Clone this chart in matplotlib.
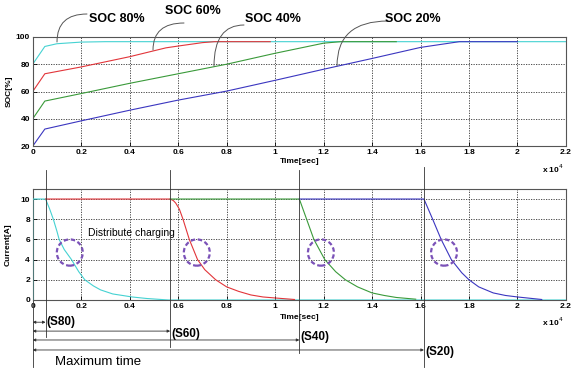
import matplotlib
matplotlib.use("Agg")
import matplotlib.pyplot as plt
from matplotlib.patches import Ellipse

# time axis in units of 1e4 sec
# SOC curves (top panel)
soc80_t = [0, 0.05, 0.1, 0.2, 0.3, 2.2]
soc80_v = [80, 93, 95, 96.2, 96.5, 96.5]
soc60_t = [0, 0.05, 0.2, 0.4, 0.55, 0.6, 0.7, 0.75, 0.98]
soc60_v = [60, 73, 78, 85.5, 92, 93.3, 95.8, 96.5, 96.5]
soc40_t = [0, 0.05, 0.2, 0.4, 0.6, 0.8, 1.0, 1.2, 1.27, 1.5]
soc40_v = [40, 53, 58.5, 66, 73, 80, 88, 95.4, 96.5, 96.5]
soc20_t = [0, 0.05, 0.2, 0.4, 0.6, 0.8, 1.0, 1.2, 1.4, 1.6, 1.76, 2.0]
soc20_v = [20, 32.5, 38.5, 46.3, 53.7, 60.3, 68.2, 76.3, 84.2, 92.3, 96.5, 96.5]

# current curves (bottom panel)
i80_t = [0, 0, 0.053, 0.07, 0.085, 0.1, 0.109, 0.13, 0.16, 0.19, 0.215, 0.25, 0.28, 0.33, 0.41, 0.47, 0.53, 0.56, 2.2]
i80_v = [0, 10, 10, 9, 8, 6.8, 6, 5, 4, 2.8, 2, 1.4, 1, 0.6, 0.3, 0.15, 0.05, 0, 0]
i60_t = [0.053, 0.567, 0.58, 0.59, 0.605, 0.62, 0.646, 0.68, 0.71, 0.755, 0.8, 0.85, 0.9, 0.95, 1.0, 1.08]
i60_v = [10, 10, 9.85, 9.6, 9, 8, 6, 4, 3, 2, 1.3, 0.85, 0.5, 0.3, 0.2, 0.05]
i40_t = [0.567, 1.10, 1.13, 1.16, 1.205, 1.25, 1.29, 1.34, 1.4, 1.45, 1.5, 1.58]
i40_v = [10, 10, 8, 6, 4, 2.8, 2, 1.3, 0.7, 0.45, 0.25, 0.08]
i20_t = [1.10, 1.614, 1.65, 1.685, 1.727, 1.77, 1.8, 1.84, 1.9, 1.95, 2.0, 2.1]
i20_v = [10, 10, 8, 6, 4, 2.7, 2, 1.3, 0.7, 0.45, 0.3, 0.05]

# charging end times and circle marks
end_times = [0.053, 0.567, 1.10, 1.614]
end_labels = ['(S80)', '(S60)', '(S40)', '(S20)']
circle_t = [0.153, 0.677, 1.189, 1.697]
circle_i = 4.7

xticks = [0, 0.2, 0.4, 0.6, 0.8, 1.0, 1.2, 1.4, 1.6, 1.8, 2.0, 2.2]
xticklabels = ['0', '0.2', '0.4', '0.6', '0.8', '1', '1.2', '1.4', '1.6', '1.8', '2', '2.2']

c_cyan = '#45d2d2'
c_red = '#e2353a'
c_green = '#3a9a3a'
c_blue = '#3b36c0'
FONT = 'Liberation Sans'

fig = plt.figure(figsize=(5.74, 3.69), dpi=100)
ax1 = fig.add_axes([0.057, 0.604, 0.929, 0.296])
ax2 = fig.add_axes([0.057, 0.187, 0.929, 0.301])

for ax in (ax1, ax2):
    ax.set_xlim(0, 2.2)
    ax.set_xticks(xticks)
    ax.set_xticklabels(xticklabels, fontsize=6, fontweight='bold', family=FONT)
    ax.tick_params(direction='in', length=3, width=0.6, pad=2, labelsize=6)
    ax.grid(True, linestyle=(0, (1.5, 1.5)), color='#333333', linewidth=0.6)
    for s in ax.spines.values():
        s.set_linewidth(0.8)
        s.set_color('#555555')

# top panel
ax1.plot(soc80_t, soc80_v, color=c_cyan, lw=0.8)
ax1.plot(soc60_t, soc60_v, color=c_red, lw=0.8)
ax1.plot(soc40_t, soc40_v, color=c_green, lw=0.8)
ax1.plot(soc20_t, soc20_v, color=c_blue, lw=0.8)
ax1.set_ylim(20, 100)
ax1.set_yticks([20, 40, 60, 80, 100])
ax1.set_yticklabels(['20', '40', '60', '80', '100'], fontsize=6, fontweight='bold', family=FONT)
ax1.set_ylabel('SOC[%]', fontsize=6, fontweight='bold', family=FONT, labelpad=2)
ax1.text(0.5, -0.14, 'Time[sec]', transform=ax1.transAxes, ha='center', va='center',
         fontsize=6, fontweight='bold', family=FONT)
ax1.text(0.975, -0.21, r'x 10$^4$', transform=ax1.transAxes, ha='center', va='center',
         fontsize=6, fontweight='bold', family=FONT)

# bottom panel
ax2.plot(i80_t, i80_v, color=c_cyan, lw=0.8, zorder=3)
ax2.plot(i60_t, i60_v, color=c_red, lw=0.8, zorder=3)
ax2.plot(i40_t, i40_v, color=c_green, lw=0.8, zorder=3)
ax2.plot(i20_t, i20_v, color=c_blue, lw=0.8, zorder=3)
ax2.set_ylim(0, 11)
ax2.set_yticks([0, 2, 4, 6, 8, 10])
ax2.set_yticklabels(['0', '2', '4', '6', '8', '10'], fontsize=6, fontweight='bold', family=FONT)
ax2.set_ylabel('Current[A]', fontsize=6, fontweight='bold', family=FONT, labelpad=6)
ax2.text(0.5, -0.155, 'Time[sec]', transform=ax2.transAxes, ha='center', va='center',
         fontsize=6, fontweight='bold', family=FONT, zorder=5)
ax2.text(0.975, -0.2, r'x 10$^4$', transform=ax2.transAxes, ha='center', va='center',
         fontsize=6, fontweight='bold', family=FONT)

for ct in circle_t:
    ax2.add_patch(Ellipse((ct, circle_i), 0.107, 2.6, fill=False, edgecolor='#7b52b8',
                          lw=1.6, linestyle=(0, (2, 1.2)), zorder=4))
ax2.text(0.23, 6.6, 'Distribute charging', fontsize=7.5, family=FONT,
         ha='left', va='center', zorder=5)

# vertical marker lines and time arrows under the bottom panel
tr = ax2.get_xaxis_transform()
line_tops = [1.17, 1.17, 1.17, 1.2]
line_bottoms = [-0.33, -0.42, -0.48, -0.6]
arrow_y = [-0.2, -0.28, -0.36, -0.45]
label_y = [-0.2, -0.31, -0.33, -0.47]
for t, top, bot in zip(end_times, line_tops, line_bottoms):
    ax2.plot([t, t], [top, bot], transform=tr, color='#333333', lw=0.6, clip_on=False, zorder=6)
ax2.plot([0, 0], [0, -0.6], transform=tr, color='#333333', lw=0.6, clip_on=False)
for t, ay, ly, lab in zip(end_times, arrow_y, label_y, end_labels):
    ax2.annotate('', xy=(t, ay), xytext=(0, ay), xycoords=tr, textcoords=tr,
                 arrowprops=dict(arrowstyle='<|-|>', color='#333333', lw=0.6,
                                 mutation_scale=4, shrinkA=0, shrinkB=0))
    ax2.text(t + 0.005, ly, lab, transform=tr, ha='left', va='center', fontsize=8.5,
             family=FONT, fontweight='bold')
ax2.text(0.09, -0.56, 'Maximum time', transform=tr, ha='left', va='center', fontsize=9.5,
         family=FONT)

# SOC labels with curved leaders (figure pixel coords, y from bottom)
H = 369
labels = ['SOC 80%', 'SOC 60%', 'SOC 40%', 'SOC 20%']
label_pos = [(117, 19), (193, 11), (273, 19), (413, 19)]
lead_start = [(87, 14), (184, 23), (244, 25), (388, 21)]
lead_end = [(57, 42), (153, 50), (214, 66), (337, 66)]
for lab, (lx, ly), (sx, sy), (ex, ey) in zip(labels, label_pos, lead_start, lead_end):
    fig.text(lx / 574, 1 - ly / H, lab, ha='center', va='center', fontsize=9,
             family=FONT, fontweight='bold')
    ax1.annotate('', xy=(ex, H - ey), xytext=(sx, H - sy), xycoords='figure pixels',
                 textcoords='figure pixels',
                 arrowprops=dict(arrowstyle='-', color='#555555', lw=0.7,
                                 connectionstyle='angle3,angleA=0,angleB=90',
                                 shrinkA=0, shrinkB=0), annotation_clip=False)

fig.savefig('out.png', dpi=100)
